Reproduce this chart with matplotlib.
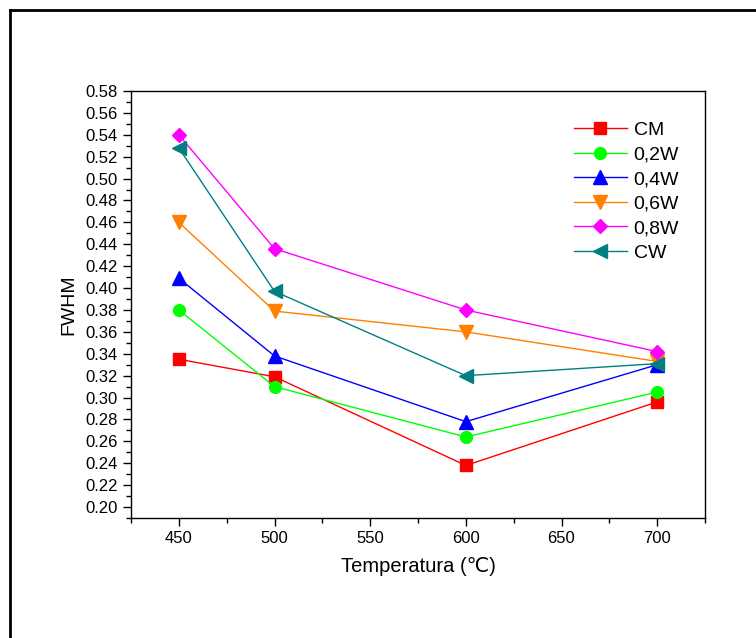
import numpy as np
import matplotlib.pyplot as plt
from matplotlib.ticker import MultipleLocator
from matplotlib.lines import Line2D

plt.rcParams['font.family'] = ['Liberation Sans', 'DejaVu Sans']

temps = [450, 500, 600, 700]
cm    = [0.335, 0.319, 0.238, 0.296]
w02   = [0.380, 0.310, 0.264, 0.305]
w04   = [0.409, 0.338, 0.278, 0.330]
w06   = [0.460, 0.379, 0.360, 0.333]
w08   = [0.540, 0.436, 0.380, 0.342]
cw    = [0.528, 0.397, 0.320, 0.331]

series = [
    ("CM",   cm,  "#ff0000", "s", 8),
    ("0,2W", w02, "#00ff00", "o", 8.5),
    ("0,4W", w04, "#0000ff", "^", 9.5),
    ("0,6W", w06, "#ff8000", "v", 9.5),
    ("0,8W", w08, "#ff00ff", "D", 7.5),
    ("CW",   cw,  "#008080", "<", 9.5),
]

fig = plt.figure(figsize=(7.56, 6.38), dpi=100)
ax = fig.add_axes([131/756, 1 - 518/638, (705 - 131)/756, (518 - 91)/638])

for name, vals, col, mk, ms in series:
    ax.plot(temps, vals, color=col, lw=1.0, marker=mk, ms=ms,
            markeredgecolor=col, label=name)

ax.set_xlim(425, 725)
ax.set_ylim(0.19, 0.58)
ax.xaxis.set_minor_locator(MultipleLocator(25))
ax.yaxis.set_minor_locator(MultipleLocator(0.01))
yt = np.arange(0.20, 0.581, 0.02)
ax.set_yticks(yt)
ax.set_yticklabels([f"{v:.2f}" for v in yt])
ax.set_xticks([450, 500, 550, 600, 650, 700])
ax.tick_params(which="major", direction="out", length=6, width=1, labelsize=12)
ax.tick_params(which="minor", direction="out", length=3.5, width=1)
for s in ax.spines.values():
    s.set_linewidth(1.0)

ax.set_xlabel("Temperatura (℃)", fontsize=14.5, labelpad=8)
ax.set_ylabel("FWHM", fontsize=14, labelpad=6)

ax.legend(loc="upper left", bbox_to_anchor=(0.755, 0.952), frameon=False,
          fontsize=14, handlelength=2.7, labelspacing=0.36,
          handletextpad=0.36, borderpad=0)

# outer frame (top and left edges visible)
fig.add_artist(Line2D([9.5/756, 1.0], [1 - 10/638, 1 - 10/638],
                      transform=fig.transFigure, color="black", lw=2))
fig.add_artist(Line2D([9.5/756, 9.5/756], [0.0, 1 - 10/638],
                      transform=fig.transFigure, color="black", lw=2))

fig.savefig("out.png", dpi=100, facecolor="white")
